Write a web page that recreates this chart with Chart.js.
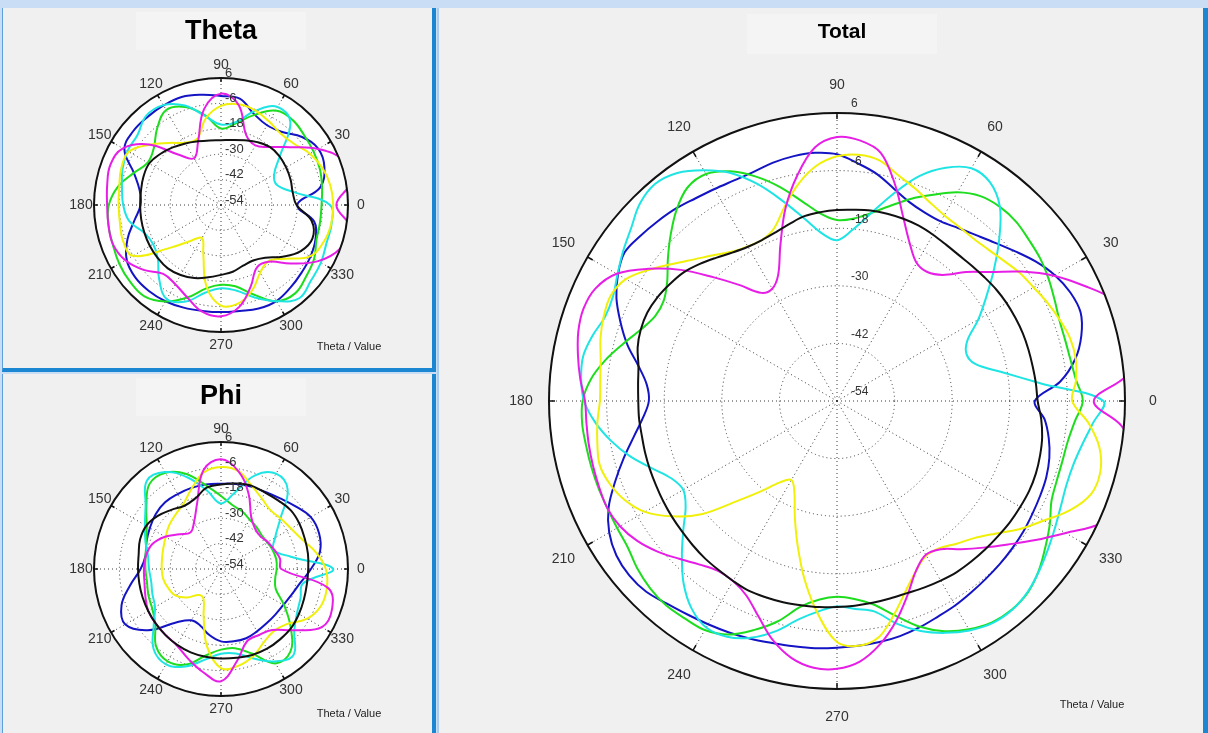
<!DOCTYPE html>
<html>
<head>
<meta charset="UTF-8">
<title>Theta / Phi / Total</title>
<style>
  body { margin: 0; width: 1208px; height: 733px; background: #c9ddf4; position: relative; overflow: hidden;
         font-family: "Liberation Sans", Arial, sans-serif; }
  .panel { position: absolute; background: #f0f0f0; }
  .panel canvas { position: absolute; left: 0; top: 0; }
  .titlebox { position: absolute; background: #f4f4f4; }
  .title { position: absolute; text-align: center; font-weight: bold; color: #000; }
  .axisname { position: absolute; width: 100px; text-align: center; font-size: 11px; line-height: 12px; color: #222; }
</style>
<script src="https://cdn.jsdelivr.net/npm/chart.js/dist/chart.umd.min.js"></script>
</head>
<body>

<div class="panel" style="left:2px;top:8px;width:429px;height:360px;border-left:1px solid #5c9fd9;border-right:4px solid #1b87d2;border-bottom:4px solid #1b87d2;">
  <div class="titlebox" style="left:133px;top:4px;width:170px;height:38px;"></div>
  <canvas id="thetaChart" width="429" height="360"></canvas>
  <div class="title" style="left:118px;top:9px;width:200px;font-size:27px;line-height:27px;">Theta</div>
  <div class="axisname" style="left:296px;top:332px;">Theta / Value</div>
</div>

<div class="panel" style="left:2px;top:374px;width:429px;height:359px;border-left:1px solid #5c9fd9;border-right:4px solid #1b87d2;">
  <div class="titlebox" style="left:133px;top:4px;width:170px;height:38px;"></div>
  <canvas id="phiChart" width="429" height="359"></canvas>
  <div class="title" style="left:118px;top:8px;width:200px;font-size:27px;line-height:27px;">Phi</div>
  <div class="axisname" style="left:296px;top:333px;">Theta / Value</div>
</div>

<div class="panel" style="left:437px;top:8px;width:764px;height:725px;border-left:2px solid #a9cdf0;border-right:5px solid #1b87d2;">
  <div class="titlebox" style="left:308px;top:6px;width:190px;height:40px;"></div>
  <canvas id="totalChart" width="764" height="725"></canvas>
  <div class="title" style="left:303px;top:12px;width:200px;font-size:21px;line-height:21px;">Total</div>
  <div class="axisname" style="left:603px;top:690px;">Theta / Value</div>
</div>

<script>
// angles in degrees, counter-clockwise from the right
const totalAngles = [0,5,10,15,20,25,30,35,40,45,50,55,60,65,70,75,80,85,90,95,100,105,110,115,
                     120,125,130,135,140,145,150,155,160,165,170,175,180,185,190,195,200,205,210,215,220,225,230,235,
                     240,245,250,255,260,265,270,275,280,285,290,295,300,305,310,315,320,325,330,335,340,345,350,355];
const smallAngles = [0,10,20,30,40,50,60,70,80,90,100,110,120,130,140,150,160,170,
                     180,190,200,210,220,230,240,250,260,270,280,290,300,310,320,330,340,350];
const angleTicks = [0,30,60,90,120,150,180,210,240,270,300,330];
const radialTicks = [6,-6,-18,-30,-42,-54];

// Total (dB), one value every 5 degrees
const totalBlack = [-12.2,-12.4,-12.6,-12.7,-12.8,-13,-13.2,-13.5,-13.9,-14.2,-14.4,-14.3,
  -14,-13.7,-13.6,-13.6,-13.7,-14,-14.2,-14.5,-14.9,-15.8,-16.6,-17,
  -16.9,-16.2,-15,-13.6,-12.3,-11.5,-10.8,-10.4,-10.5,-11,-12,-12.4,
  -12.6,-12.6,-12.7,-12.6,-12.5,-12.4,-12.2,-12,-11.8,-11.5,-11.2,-11,
  -10.7,-10.4,-10.5,-10.6,-10.8,-10.9,-11.1,-11.2,-11.3,-11.4,-11.4,-11.1,
  -10.8,-10.5,-10.4,-10.3,-10.2,-10,-9.9,-9.8,-9.9,-10.2,-10.6,-11.3];
const totalBlue = [-12.8,-7.3,-3.6,-1.3,0,-0.4,-1.6,-3.4,-5.5,-7.4,-8.9,-10,
  -10.8,-10.7,-9.9,-8.2,-6,-4.3,-2.6,-2.1,-2.2,-2.6,-3.2,-3.3,
  -3,-2.5,-1.7,-1.1,-0.5,0,-1.3,-3.3,-6,-8.8,-12,-14.2,
  -14.8,-13.4,-11,-8,-4.8,-1.5,0.8,2.1,2.5,2.2,1.1,0.3,
  -0.3,-0.8,-1.3,-1.8,-2.1,-2.3,-2.6,-2.8,-3,-3.3,-3.8,-4.4,
  -4.8,-5.3,-5.7,-6,-6.3,-6.6,-7,-7.3,-7.6,-8.2,-9.2,-10.6];
const totalMagenta = [-0.5,6.5,10,10,7.5,2.8,-1.8,-7,-12.2,-16,-19.7,-21.2,
  -20.8,-18,-13.5,-7.3,-1.5,0.5,1,-1,-6.3,-12.5,-19.5,-25,
  -27,-26.5,-22.5,-17.5,-11.5,-6,-1,1.5,2.2,1.8,0.8,-0.3,
  -1.5,-1.6,-1.5,-1.4,-1.3,-1.2,-1.8,-3.2,-5.2,-7.5,-9.5,-10.8,
  -10.7,-9.3,-6.2,-2.4,0.4,1.8,1.8,0.5,-2.5,-6.5,-11,-15,
  -17,-16.3,-13.7,-10.8,-7.5,-3.5,1,6.5,9,10,9,5.5];
const totalCyan = [1.5,-11.5,-19.2,-24.2,-25.3,-24,-20,-16,-11.3,-6.2,-1.2,1.6,
  2,-0.4,-4.2,-9.5,-14.5,-18.3,-20.5,-19,-15.5,-11,-6,-1.6,
  1.5,4,5,4.1,2,0.4,-1.2,-2.5,-2.6,-1.3,-0.3,-0.5,
  -1.3,-3.4,-6.2,-9.4,-13,-15.9,-17,-15.5,-12.2,-8.3,-4.3,-1.2,
  0.5,0.2,-1.5,-4.3,-7.8,-10,-11.2,-10.5,-9.5,-6,-3,-0.7,
  1.2,2.5,2.8,2.2,1,-0.3,-1.5,-2.5,-3.1,-3,-2.1,-0.5];
const totalGreen = [-2.8,-4,-4.6,-4.8,-4.7,-4,-3.1,-2.3,-1.8,-1.2,-1.2,-1.9,
  -3.8,-6.6,-9.2,-12,-14.3,-15.9,-16.3,-14.8,-11.7,-7.8,-4.2,-1.2,
  0.6,0.3,-2,-5,-8,-10.8,-12.3,-12.2,-10.5,-7.9,-5,-2.5,
  -1,-0.7,-0.9,-1,-1.1,-1.2,-1.1,-0.8,0.3,1.1,1.5,1.3,
  1.1,-0.3,-3.2,-6.5,-10.5,-12.5,-13.2,-12.6,-11,-7.8,-4,-1.1,
  0.9,2.3,2.7,2.3,0.9,-1,-2.8,-4.7,-5.3,-5.4,-5.2,-4.3];
const totalYellow = [-5,-4,-3.5,-3.7,-4.6,-5.6,-6.7,-7.5,-8.6,-9.4,-9.8,-9.7,
  -9.3,-8.3,-6.8,-5.2,-3.1,-2.5,-3,-4.8,-8,-12,-15.7,-17,
  -16.8,-16,-14.3,-12.2,-9.5,-6.3,-3.2,-2,-2.3,-3,-4,-4.5,
  -4.6,-3.9,-3.3,-2.8,-3.6,-5.2,-7.8,-12.1,-17.4,-24.5,-29.5,-33.3,
  -35,-33,-28.3,-22.5,-15.8,-9.3,-3.8,-2.8,-4,-8,-12,-15,
  -16.8,-16.6,-15.2,-13.6,-11,-7.5,-4.2,-0.3,2.4,2.8,1.5,-1.4];

// Theta (dB), one value every 10 degrees
const thetaBlack = [-18.3,-19.6,-19,-18.5,-18,-18.2,-19.7,-21.5,-22.8,-23.4,-23,-22,
  -20.4,-18.5,-16.5,-14.8,-15,-15.6,-15.8,-15.7,-15.5,-15.2,-15,-14.9,
  -15.8,-17.3,-19.3,-21,-22,-23.5,-23.7,-21.5,-16,-10.5,-8,-10.5];
const thetaBlue = [-18,-6.5,-2,-0.9,-4,-9,-10.5,-8.3,-3,-2.5,-1.1,0.3,
  0.3,0.2,0.2,-1.3,-10.3,-15,-16,-12.5,-7,-2.5,-1,-1,
  -1.5,-2.4,-3.2,-3.4,-3.2,-2,-1.6,-3,-4.3,-5.2,-6.5,-9.3];
const thetaMagenta = [0.5,8,7.5,-1,-11.5,-18.2,-21.5,-19,-6,-1.4,-8,-22.3,
  -28.5,-23,-9.5,-0.5,1.6,0.6,-0.2,0,0.3,-1.8,-6.3,-11.5,
  -10.8,-7.5,-2.8,-1.4,-5,-13,-20,-19,-11,-1,6,8];
const thetaCyan = [-2.5,-19,-26,-25,-17.5,-3,-0.5,-6.6,-14.3,-16,-11.4,-4,
  0.5,1,-2.5,-3,-4.5,-6.5,-7.8,-10,-15.5,-17,-15,-8.5,
  -2.7,-5.5,-12,-14.7,-13,-7.5,-1.5,3.5,1.5,0.5,-1,-1];
const thetaGreen = [-6.5,-5.5,-4.3,-3.5,-2.7,-1.5,-2.5,-8.8,-14.9,-17.9,-11,-4.7,
  -2.2,-7,-12.5,-14,-10,-4.5,-1,0,0.4,1.5,2.2,2.3,
  -1.4,-7.5,-14,-16.3,-15,-9,-1.5,0.5,-1.5,-3.2,-6,-6.5];
const thetaYellow = [-1,-1.5,-3,-5.5,-9,-10,-8.5,-6.5,-5.7,-7.2,-12.5,-20.8,
  -20,-15.7,-9.7,-3.7,-3.8,-5.2,-5.6,-5.5,-4.7,-6,-22.5,-32,
  -36,-29.5,-14.8,-6.5,-6.8,-11,-17,-19.3,-14.5,-5.5,-2.5,-1.2];

// Phi (dB), one value every 10 degrees
const phiBlack = [-12.8,-12.3,-11.9,-11.2,-10.9,-11.8,-12.3,-12.1,-13,-14.1,-15,-18.5,
  -19.5,-17.5,-15,-13.2,-13.3,-14.5,-14.8,-14.8,-14.6,-14.3,-13.8,-13.2,
  -12.6,-12.1,-11.9,-11.7,-11.4,-10.8,-10.5,-10.6,-10.7,-11.5,-12.3,-12.8];
const phiBlue = [-11.5,-6.5,-4.7,-5,-8,-10.5,-12,-12.6,-13.2,-13.7,-13.4,-13.2,
  -13.1,-12.9,-13.7,-15.2,-16.5,-17.8,-16,-10.5,-4,-1.7,-9,-21,
  -26,-25.5,-22.3,-19.8,-19.3,-19.2,-20,-20.5,-20.5,-20,-18.5,-16];
const phiMagenta = [-25.5,-25.7,-27.3,-28.5,-29.8,-29,-25.5,-16,-7,-2.2,-6.5,-21,
  -28.5,-31.5,-28.5,-23.5,-19.5,-18,-17.6,-17.3,-16,-14.3,-13.8,-13.3,
  -12.3,-8.8,-4.6,-1,-10,-17.8,-18,-16.4,-9,1,1.8,-2.7];
const phiCyan = [-1,-20.5,-27.5,-24.5,-17.5,-5,-2,-6.9,-17.5,-23,-16.5,-8,
  -1.1,0.5,-7.5,-12.5,-16,-19,-20,-20.5,-19.5,-18,-12.5,-4.5,
  -2,-5,-10.5,-14,-13.5,-9,-3.6,-0.8,-8.8,-12.5,-14,-14.7];
const phiGreen = [-27.7,-27.5,-28,-28.8,-29,-28,-27,-25,-23.3,-19.5,-14,-6.2,
  -1.5,-1.5,-8,-13.5,-16.5,-17.8,-18.3,-18.5,-17.5,-16.5,-13.5,-6.3,
  -3.6,-6,-12.5,-15.9,-16,-11.5,-2.5,-3,-11,-19.5,-26.5,-28];
const phiYellow = [-4.5,-8.5,-13.2,-15.8,-17,-17.7,-15.5,-12,-7,-5.8,-7.6,-13.5,
  -18.5,-20.5,-22,-23.8,-25,-25.7,-26,-26.3,-27.5,-29,-33,-38,
  -37.5,-30,-16.5,-7.2,-7.5,-10,-13.8,-15.5,-13.5,-7,-3.6,-3.2];

const colors = { black: '#111111', magenta: '#e61ee6', yellow: '#f0f00a', cyan: '#1ee4e4', green: '#1edd1e', blue: '#1414c4' };

// rim, angle labels, value labels; curves are clipped to the circle
function decor(g) {
  return {
    id: 'decor',
    beforeDatasetsDraw(chart) {
      const s = chart.scales.r, ctx = chart.ctx;
      ctx.save();
      ctx.beginPath();
      ctx.arc(s.xCenter, s.yCenter, s.drawingArea, 0, Math.PI * 2);
      ctx.clip();
    },
    afterDatasetsDraw(chart) {
      const s = chart.scales.r, ctx = chart.ctx;
      ctx.restore();
      const x0 = s.xCenter, y0 = s.yCenter, R = s.drawingArea;
      ctx.save();
      ctx.strokeStyle = '#111';
      ctx.lineWidth = g.rimWidth;
      ctx.beginPath();
      ctx.arc(x0, y0, R, 0, Math.PI * 2);
      ctx.stroke();

      ctx.fillStyle = '#333';
      ctx.font = g.labelFont;
      ctx.textAlign = 'center';
      ctx.textBaseline = 'middle';
      angleTicks.forEach(a => {
        const t = a * Math.PI / 180, c = Math.cos(t), sn = Math.sin(t);
        ctx.lineWidth = 1.5;
        ctx.beginPath();
        ctx.moveTo(x0 + (R - g.tickLen) * c, y0 - (R - g.tickLen) * sn);
        ctx.lineTo(x0 + R * c, y0 - R * sn);
        ctx.stroke();
        ctx.fillText(String(a), x0 + (R + g.labelGap) * c, y0 - (R + g.labelGap) * sn);
      });

      ctx.font = g.tickFont;
      ctx.textAlign = 'left';
      radialTicks.forEach(v => {
        ctx.fillText(String(v), x0 + g.tickDx, y0 - s.getDistanceFromCenterForValue(v) - g.tickDy);
      });
      ctx.restore();
    }
  };
}

function polarChart(id, angles, curves, g) {
  const n = angles.length;
  // radar runs clockwise from its start angle, the plot runs counter-clockwise from 0
  const order = angles.map((a, i) => (n - i) % n);
  const datasets = curves.map(c => ({
    label: c.name,
    data: order.map(k => c.values[k]),
    borderColor: colors[c.name],
    borderWidth: g.lineWidth,
    borderJoinStyle: 'round',
    pointRadius: 0,
    pointHoverRadius: 0,
    fill: false,
    tension: g.tension
  }));
  return new Chart(document.getElementById(id), {
    type: 'radar',
    data: { labels: order.map(k => angles[k]), datasets: datasets },
    options: {
      responsive: false,
      animation: false,
      devicePixelRatio: 1,
      layout: { padding: { left: g.cx - g.r, top: g.cy - g.r, right: g.w - g.cx - g.r, bottom: g.h - g.cy - g.r } },
      plugins: { legend: { display: false }, tooltip: { enabled: false } },
      scales: {
        r: {
          min: -54,
          max: 6,
          startAngle: 90,
          backgroundColor: '#ffffff',
          ticks: { display: false, stepSize: 12 },
          pointLabels: { display: false },
          grid: { circular: true, color: '#3a3a3a', lineWidth: 1 },
          border: { dash: [1, 3] },
          angleLines: {
            color: '#3a3a3a',
            borderDash: [1, 3],
            lineWidth: ctx => (angles[order[ctx.index]] % 30 === 0 ? 1 : 0)
          }
        }
      }
    },
    plugins: [decor(g)]
  });
}

function curveSet(black, magenta, yellow, cyan, green, blue) {
  // first dataset ends up on top
  return [
    { name: 'black', values: black },
    { name: 'magenta', values: magenta },
    { name: 'yellow', values: yellow },
    { name: 'cyan', values: cyan },
    { name: 'green', values: green },
    { name: 'blue', values: blue }
  ];
}

const smallGeom = { r: 127, w: 429, cx: 218, lineWidth: 2, tension: 0.4, rimWidth: 2,
  labelFont: '14px "Liberation Sans", Arial, sans-serif', labelGap: 13, tickLen: 4,
  tickFont: '13px "Liberation Sans", Arial, sans-serif', tickDx: 4, tickDy: 5 };

polarChart('thetaChart', smallAngles,
  curveSet(thetaBlack, thetaMagenta, thetaYellow, thetaCyan, thetaGreen, thetaBlue),
  Object.assign({}, smallGeom, { h: 360, cy: 197 }));

polarChart('phiChart', smallAngles,
  curveSet(phiBlack, phiMagenta, phiYellow, phiCyan, phiGreen, phiBlue),
  Object.assign({}, smallGeom, { h: 359, cy: 195 }));

polarChart('totalChart', totalAngles,
  curveSet(totalBlack, totalMagenta, totalYellow, totalCyan, totalGreen, totalBlue),
  { r: 288, w: 764, h: 725, cx: 398, cy: 393, lineWidth: 2, tension: 0.35, rimWidth: 2,
    labelFont: '14px "Liberation Sans", Arial, sans-serif', labelGap: 28, tickLen: 6,
    tickFont: '12px "Liberation Sans", Arial, sans-serif', tickDx: 14, tickDy: 9 });
</script>
</body>
</html>
